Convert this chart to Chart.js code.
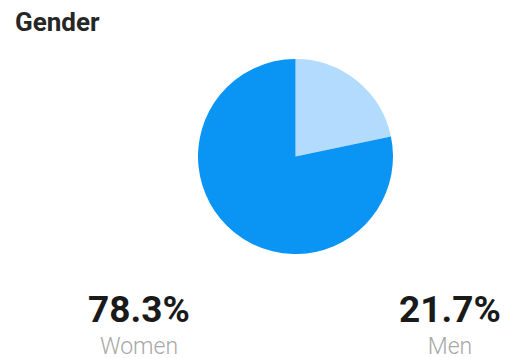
<!DOCTYPE html>
<html lang="en">
<head>
  <meta charset="UTF-8" />
  <title>Gender</title>
  <script src="https://cdn.jsdelivr.net/npm/chart.js"></script>
  <style>
    html, body { margin: 0; padding: 0; background: #fff; }
    body { width: 510px; height: 358px; position: relative; overflow: hidden; font-family: Roboto, 'Noto Sans', sans-serif; }
    .title { position: absolute; left: 15px; top: 9px; font-size: 26px; line-height: 26px; font-weight: 700; color: #262626; }
    .pie-box { position: absolute; left: 198px; top: 59px; width: 195px; height: 195px; }
    .stat { position: absolute; width: 160px; text-align: center; }
    .stat .pct { font-size: 37px; line-height: 37px; font-weight: 700; color: #1a1a1a; height: 44px; }
    .stat .lbl { font-size: 23px; line-height: 23px; font-weight: 300; color: #a8a8a8; }
  </style>
</head>
<body>
  <div class="title">Gender</div>
  <div class="pie-box"><canvas id="pie" width="195" height="195"></canvas></div>
  <div id="stats"></div>

  <script>
    const labels = ["Men", "Women"];
    const shares = [21.7, 78.3];
    const colors = ["#b3dbfd", "#0a95f5"];

    // order shown under the pie, with centre x of each block
    const statOrder = ["Women", "Men"];
    const statCenters = [139, 450];

    new Chart(document.getElementById("pie"), {
      type: "pie",
      data: {
        labels: labels,
        datasets: [{ data: shares, backgroundColor: colors, borderWidth: 0 }]
      },
      options: {
        responsive: false,
        animation: false,
        layout: { padding: 0 },
        plugins: { legend: { display: false }, tooltip: { enabled: false } }
      }
    });

    const stats = document.getElementById("stats");
    statOrder.forEach((name, i) => {
      const v = shares[labels.indexOf(name)];
      const el = document.createElement("div");
      el.className = "stat";
      el.style.left = (statCenters[i] - 80) + "px";
      el.style.top = "291px";
      el.innerHTML = `<div class="pct">${v.toFixed(1)}%</div><div class="lbl">${name}</div>`;
      stats.appendChild(el);
    });
  </script>
</body>
</html>
